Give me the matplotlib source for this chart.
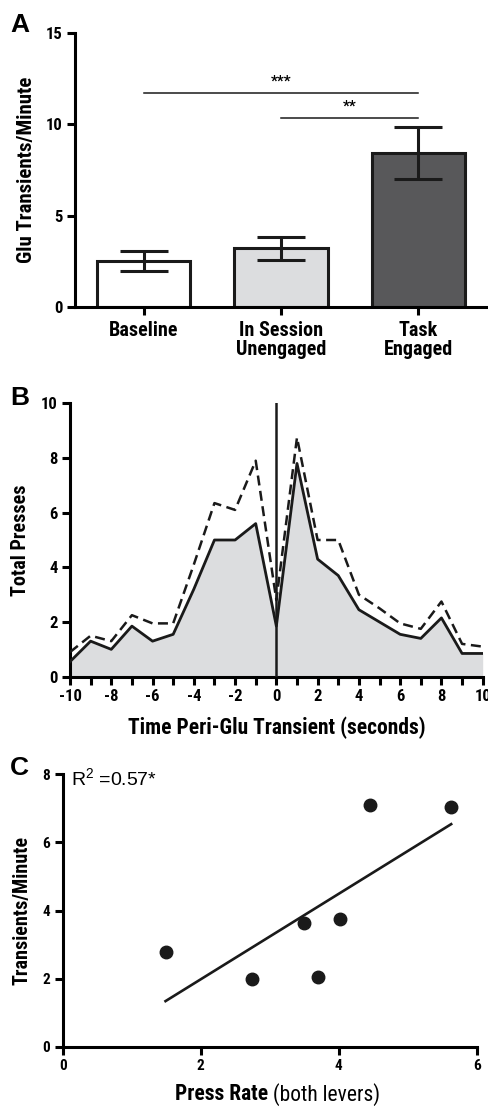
import numpy as np
import matplotlib.pyplot as plt
from matplotlib.ticker import MultipleLocator

plt.rcParams['font.family'] = ['Roboto Condensed', 'Liberation Sans', 'DejaVu Sans']
plt.rcParams['font.weight'] = 'bold'
plt.rcParams['axes.labelweight'] = 'bold'
plt.rcParams['axes.unicode_minus'] = False
plt.rcParams['mathtext.fontset'] = 'custom'
plt.rcParams['mathtext.rm'] = 'Liberation Sans:weight=normal'
plt.rcParams['mathtext.default'] = 'rm'

# panel A
groups = ['Baseline', 'In Session\nUnengaged', 'Task\nEngaged']
rate = [2.5, 3.2, 8.45]
rate_err = [0.55, 0.62, 1.43]
bar_colors = ['white', '#dcdddf', '#58585a']

# panel B
sec = np.arange(-10, 11)
presses = [0.55, 1.3, 1.0, 1.85, 1.3, 1.55, 3.2, 5.0, 5.0, 5.6, 1.85,
           7.8, 4.3, 3.7, 2.45, 2.0, 1.55, 1.4, 2.15, 0.85, 0.85]
presses_hi = [0.9, 1.5, 1.3, 2.25, 1.95, 1.95, 4.1, 6.35, 6.1, 7.9, 2.8,
              8.75, 5.0, 5.0, 3.0, 2.5, 1.95, 1.75, 2.75, 1.2, 1.1]

# panel C
press_rate = [1.49, 2.75, 3.49, 3.70, 4.02, 4.46, 5.63]
transients = [2.79, 1.99, 3.62, 2.04, 3.76, 7.10, 7.04]

W, H = 488, 1107
fig = plt.figure(figsize=(W / 100, H / 100), dpi=100)


def px_axes(left, right, top, bottom):
    return fig.add_axes([left / W, 1 - bottom / H, (right - left) / W, (bottom - top) / H])


def style(ax):
    for s in ['top', 'right']:
        ax.spines[s].set_visible(False)
    for s in ['left', 'bottom']:
        ax.spines[s].set_linewidth(2.2)
    ax.tick_params(width=2.2, length=6, labelsize=12, pad=3)
    ax.tick_params(which='minor', width=2.2, length=6)


# ---- A ----
axA = px_axes(75, 487, 33.3, 306.7)
style(axA)
x = np.arange(3)
axA.bar(x, rate, width=0.68, color=bar_colors, edgecolor='#1a1a1a', linewidth=2.2, zorder=2)
axA.errorbar(x, rate, yerr=rate_err, fmt='none', ecolor='#1a1a1a', elinewidth=2.2,
             capsize=17, capthick=2.2, zorder=3)
axA.set_xlim(-0.5, 2.5)
axA.set_ylim(0, 15)
axA.set_yticks([0, 5, 10, 15])
axA.set_xticks(x)
axA.set_xticklabels(groups, fontsize=14.5, linespacing=1.05)
axA.tick_params(axis='x', pad=4)
axA.set_ylabel('Glu Transients/Minute', fontsize=15, labelpad=7)
axA.plot([0, 2], [11.71, 11.71], color='#1a1a1a', lw=1.1, clip_on=False)
axA.plot([1, 2], [10.37, 10.37], color='#1a1a1a', lw=1.1, clip_on=False)
axA.text(1.0, 11.95, '***', ha='center', va='bottom', fontsize=11)
axA.text(1.5, 10.6, '**', ha='center', va='bottom', fontsize=11)

# ---- B ----
axB = px_axes(70, 482.7, 403.3, 676.7)
style(axB)
axB.fill_between(sec, presses, 0, color='#dcdddf', lw=0, zorder=1)
axB.plot(sec, presses_hi, color='#1a1a1a', lw=1.8, ls=(0, (4, 2.2)), zorder=3)
axB.plot(sec, presses, color='#1a1a1a', lw=2.0, zorder=4)
axB.axvline(0, color='#1a1a1a', lw=1.8, zorder=5)
axB.set_xlim(-10, 10)
axB.set_ylim(0, 10)
axB.xaxis.set_major_locator(MultipleLocator(2))
axB.xaxis.set_minor_locator(MultipleLocator(1))
axB.set_yticks([0, 2, 4, 6, 8, 10])
axB.set_ylabel('Total Presses', fontsize=14.5, labelpad=8)
axB.set_xlabel('Time Peri-Glu Transient (seconds)', fontsize=15.5, labelpad=9)

# ---- C ----
axC = px_axes(62.7, 476.7, 774.3, 1046.7)
style(axC)
axC.plot(press_rate, transients, 'o', color='#1a1a1a', ms=9, zorder=3)
slope, icpt = np.polyfit(press_rate, transients, 1)
xf = np.array([min(press_rate), max(press_rate)])
axC.plot(xf, slope * xf + icpt, color='#1a1a1a', lw=1.9, zorder=2)
r2 = np.corrcoef(press_rate, transients)[0, 1] ** 2
axC.set_xlim(0, 6)
axC.set_ylim(0, 8)
axC.set_xticks([0, 2, 4, 6])
axC.set_yticks([0, 2, 4, 6, 8])
axC.tick_params(labelsize=11)
axC.set_ylabel('Transients/Minute', fontsize=14.5, labelpad=8)
axC.text(0.02, 0.985, 'R$^2$ =%.2f*' % r2, transform=axC.transAxes, fontsize=14,
         fontweight='normal', family=['Liberation Sans', 'DejaVu Sans'],
         ha='left', va='center')
t = axC.text(0.496, -0.175, 'Press Rate', transform=axC.transAxes, fontsize=15.5,
             ha='right', va='center')
axC.annotate(' (both levers)', xy=(1, 0.5), xycoords=t, fontsize=15.5,
             fontweight='normal', ha='left', va='center')

for lab, ypx in [('A', 32), ('B', 405), ('C', 775)]:
    fig.text(10 / W, 1 - ypx / H, lab, fontsize=19, fontweight='bold',
             family=['Liberation Sans', 'DejaVu Sans'], ha='left', va='baseline')

fig.savefig('out.png', dpi=100)
